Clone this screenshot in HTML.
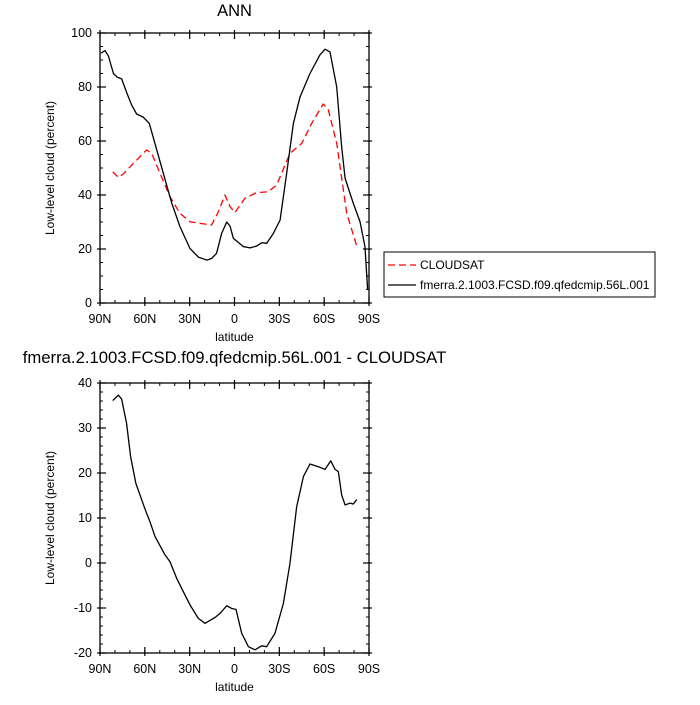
<!DOCTYPE html>
<html><head><meta charset="utf-8"><style>
body{margin:0;background:#fff;}
svg text{font-family:"Liberation Sans",sans-serif;}
</style></head><body>
<svg id="chart" width="700" height="700" xmlns="http://www.w3.org/2000/svg"></svg>
<script>
const blackLat=[89.3,86.7,84.4,81,78.4,75.5,72.2,68.8,65.5,61,57,53.2,47.6,42,36.5,29.8,24.2,18.6,15.3,12,8.6,5.2,3,0.8,-5.9,-10.4,-14.8,-18.2,-21.5,-26,-30.5,-34.9,-39.4,-43.9,-50.5,-57.2,-60.6,-63.9,-68.4,-71.7,-74,-79.5,-84,-87.3,-89.1];
const blackVal=[92.5,93.5,91.5,85,83.6,83,78,73.3,70,68.8,66.5,59,48,37,28.3,20.2,17,15.9,16.5,18.4,25.8,30,28.5,24,20.9,20.4,21.1,22.3,22.1,25.8,30.7,48,66.5,76.4,85,91.9,94,93,80,57.9,46.2,36.9,30.1,20.9,4.8];
const redLat=[81.5,77.7,74.4,67.7,58.8,55.4,49.8,43.2,36.5,29.8,23.1,15.3,10.8,6.4,3,-0.3,-7,-14.8,-22.6,-28.2,-37.1,-45,-51.6,-59.4,-62.8,-68.4,-75.1,-81.8];
const redVal=[48.6,46.5,47.8,51.7,56.7,55.4,48,39.4,33.2,30.1,29.5,28.9,33.8,40,35.7,33.5,38.8,40.9,41.2,43.7,55.4,59.1,66.5,73.7,71.5,59.1,33.2,21.1];
const diffLat=[81.5,77.7,75.5,72.2,69.5,66,60,56.6,53.2,46.5,43.2,38.7,34.2,29.8,24.2,19.7,13,9.7,5.2,1.9,-1,-4.8,-9.3,-13.7,-18.2,-21.5,-27.1,-32.7,-37.1,-41.6,-46.1,-50.5,-56.1,-60.6,-64.4,-67.3,-69.5,-71.7,-74,-77.3,-79.5,-81.8];
const diffVal=[36.1,37.3,36.4,31,23.6,17.7,12.1,9.2,5.9,1.8,0.3,-3.4,-6.4,-9.3,-12.3,-13.4,-12.1,-11.2,-9.5,-10.1,-10.3,-15.6,-18.6,-19.3,-18.4,-18.6,-15.6,-9,-0.1,12.5,19.2,22,21.4,20.8,22.7,20.8,20.3,15.1,12.9,13.3,13.1,14.1];
const xTickVals=[90,60,30,0,-30,-60,-90];
const xTickLabels=['90N','60N','30N','0','30S','60S','90S'];
const topTicks=[0,20,40,60,80,100];
const botTicks=[-20,-10,0,10,20,30,40];

const svg=document.getElementById('chart');
const NS='http://www.w3.org/2000/svg';
function el(t,a,p){const e=document.createElementNS(NS,t);for(const k in a)e.setAttribute(k,a[k]);(p||svg).appendChild(e);return e;}
const L=100,R=369;
const xs=lat=>L+(90-lat)*(R-L)/180;

function panel(name,top,bot,ymin,ymax,ticks,minorStep,title,titleY,titleSize){
  const g=el('g',{});
  
  
  const ys=v=>bot-(v-ymin)*(bot-top)/(ymax-ymin);
  for(let v=ymin;v<=ymax+1e-9;v+=minorStep){
    const t1=el('line',{x1:L,x2:L+3,y1:ys(v),y2:ys(v),stroke:'#000','stroke-width':1},g);
    
    const t2=el('line',{x1:R,x2:R-3,y1:ys(v),y2:ys(v),stroke:'#000','stroke-width':1},g);
    
  }
  for(let lat=90;lat>=-90;lat-=10){
    const t1=el('line',{x1:xs(lat),x2:xs(lat),y1:bot,y2:bot-3,stroke:'#000','stroke-width':1},g);
    
    const t2=el('line',{x1:xs(lat),x2:xs(lat),y1:top,y2:top+3,stroke:'#000','stroke-width':1},g);
    
  }
  ticks.forEach(v=>{
    const y=ys(v);
    const a=el('line',{x1:L-3,x2:L+6,y1:y,y2:y,stroke:'#000','stroke-width':1.2},g);
    
    const b=el('line',{x1:R+3,x2:R-6,y1:y,y2:y,stroke:'#000','stroke-width':1.2},g);
    
    const t=el('text',{x:L-8,y:y+4,'text-anchor':'end','font-size':12.5},g);t.textContent=v;
    
  });
  xTickVals.forEach((lat,i)=>{
    const x=xs(lat);
    const a=el('line',{x1:x,x2:x,y1:bot+3,y2:bot-6,stroke:'#000','stroke-width':1.2},g);
    
    const b=el('line',{x1:x,x2:x,y1:top-3,y2:top+6,stroke:'#000','stroke-width':1.2},g);
    
    const t=el('text',{x:x,y:bot+20,'text-anchor':'middle','font-size':12.5},g);t.textContent=xTickLabels[i];
    
  });
  const fr=el('rect',{x:L,y:top,width:R-L,height:bot-top,fill:'none',stroke:'#000','stroke-width':1.3},g);
  
  const xl=el('text',{x:(L+R)/2,y:bot+38,'text-anchor':'middle','font-size':12},g);xl.textContent='latitude';
  
  const cy=(top+bot)/2;
  const yl=el('text',{x:54,y:cy,'text-anchor':'middle','font-size':12,transform:`rotate(-90 54 ${cy})`},g);yl.textContent='Low-level cloud (percent)';
  
  const tt=el('text',{x:(L+R)/2,y:titleY,'text-anchor':'middle','font-size':titleSize},g);tt.textContent=title;
  
  return ys;
}
function line(lats,vals,ys,color,dash,name){
  const p=el('polyline',{points:lats.map((l,i)=>xs(l)+','+ys(vals[i])).join(' '),fill:'none',stroke:color,'stroke-width':1.3,'stroke-dasharray':dash,'stroke-linejoin':'round'});
  
  
}
const ys1=panel('top-panel',33,303,0,100,topTicks,5,'ANN',16,16.5);
line(redLat,redVal,ys1,'#f00','7,4','cloudsat-line');
line(blackLat,blackVal,ys1,'#000','none','model-line');
const ys2=panel('bottom-panel',383,653,-20,40,botTicks,2,'fmerra.2.1003.FCSD.f09.qfedcmip.56L.001 - CLOUDSAT',363,16.7);
line(diffLat,diffVal,ys2,'#000','none','difference-line');
const lg=el('g',{});


el('rect',{x:384,y:252,width:271,height:45,fill:'#fff',stroke:'#000','stroke-width':1},lg);
el('line',{x1:388,x2:416,y1:265,y2:265,stroke:'#f00','stroke-width':1.3,'stroke-dasharray':'7,4'},lg);
const l1=el('text',{x:420,y:269,'font-size':12},lg);l1.textContent='CLOUDSAT';

el('line',{x1:388,x2:416,y1:285,y2:285,stroke:'#000','stroke-width':1.3},lg);
const l2=el('text',{x:420,y:289,'font-size':12},lg);l2.textContent='fmerra.2.1003.FCSD.f09.qfedcmip.56L.001';

</script>
</body></html>
